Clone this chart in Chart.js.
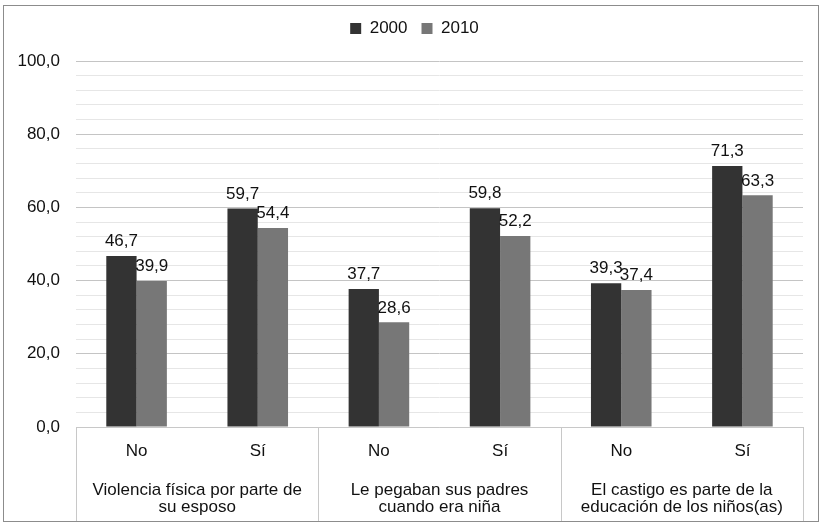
<!DOCTYPE html>
<html>
<head>
<meta charset="utf-8">
<script src="https://cdn.jsdelivr.net/npm/chart.js@4/dist/chart.umd.min.js"></script>
<style>
  html, body { margin: 0; padding: 0; background: #fff; }
  #wrap { position: relative; width: 822px; height: 526px; }
  #frame { position: absolute; left: 3px; top: 5px; width: 814px; height: 515px; border: 1px solid #8c8c8c; pointer-events: none; }
</style>
</head>
<body>
<div id="wrap">
  <canvas id="myBarChart" width="822" height="526"></canvas>
  <div id="frame"></div>
</div>
<script>
// 데이터
const subLabels = ['No', 'Sí', 'No', 'Sí', 'No', 'Sí'];
const groupLabels = [
    ['Violencia física por parte de', 'su esposo'],
    ['Le pegaban sus padres', 'cuando era niña'],
    ['El castigo es parte de la', 'educación de los niños(as)']
];
const values2000 = [46.7, 59.7, 37.7, 59.8, 39.3, 71.3];
const values2010 = [39.9, 54.4, 28.6, 52.2, 37.4, 63.3];

const FONT = "'Liberation Sans', Arial, sans-serif";
const fmt = v => v.toFixed(1).replace('.', ',');

// 범례 아래 여백 + 약간 오른쪽으로
const legendTweak = {
    id: 'legendTweak',
    beforeInit(chart) {
        const lg = chart.legend;
        const origFit = lg.fit;
        lg.fit = function () {
            origFit.call(this);
            this.height += 14;
        };
        const origDraw = lg.draw;
        lg.draw = function () {
            chart.ctx.save();
            chart.ctx.translate(10, 0);
            origDraw.call(this);
            chart.ctx.restore();
        };
    }
};

// 막대 위 값 표시
const valueLabels = {
    id: 'valueLabels',
    afterDatasetsDraw(chart) {
        const c = chart.ctx;
        c.save();
        c.font = '17px ' + FONT;
        c.fillStyle = '#111';
        c.textAlign = 'center';
        c.textBaseline = 'bottom';
        chart.data.datasets.forEach((ds, i) => {
            chart.getDatasetMeta(i).data.forEach((bar, j) => {
                c.fillText(fmt(ds.data[j]), bar.x, bar.y - 6);
            });
        });
        c.restore();
    }
};

// 그룹 구분선
const groupLines = {
    id: 'groupLines',
    afterDraw(chart) {
        const x = chart.scales.x;
        const x2 = chart.scales.x2;
        const c = chart.ctx;
        const xs = [x.left];
        for (let g = 1; g < groupLabels.length; g++) {
            xs.push((x.getPixelForValue(g * 2 - 1) + x.getPixelForValue(g * 2)) / 2);
        }
        xs.push(x.right);
        c.save();
        c.strokeStyle = '#c8c8c8';
        c.lineWidth = 1;
        c.beginPath();
        xs.forEach(px => {
            const p = Math.round(px) + 0.5;
            c.moveTo(p, x.top);
            c.lineTo(p, x2.bottom);
        });
        c.moveTo(x.left, Math.round(x.top) + 0.5);
        c.lineTo(x.right, Math.round(x.top) + 0.5);
        c.stroke();
        c.restore();
    }
};

const ctx = document.getElementById('myBarChart').getContext('2d');
const myBarChart = new Chart(ctx, {
    type: 'bar',
    data: {
        labels: subLabels,
        datasets: [
            { label: '2000', data: values2000, backgroundColor: '#333333' },
            { label: '2010', data: values2010, backgroundColor: '#777777' }
        ]
    },
    options: {
        responsive: false,
        animation: false,
        layout: { padding: { left: 6, right: 19, top: 6, bottom: 4 } },
        categoryPercentage: 0.5,
        barPercentage: 1.0,
        plugins: {
            legend: {
                position: 'top',
                labels: {
                    boxWidth: 11,
                    boxHeight: 11,
                    padding: 14,
                    color: '#111',
                    font: { family: FONT, size: 17 }
                }
            },
            tooltip: { enabled: false }
        },
        scales: {
            x: {
                position: 'bottom',
                grid: { display: false },
                border: { display: false },
                ticks: { color: '#111', padding: 6, font: { family: FONT, size: 17 }, maxRotation: 0 },
                afterFit(s) { s.height = 42; }
            },
            x2: {
                type: 'category',
                position: 'bottom',
                labels: groupLabels,
                offset: true,
                grid: { display: false },
                border: { display: false },
                ticks: { color: '#111', padding: 5, font: { family: FONT, size: 17, lineHeight: 1.0 }, maxRotation: 0 },
                afterFit(s) { s.height = 53; }
            },
            y: {
                min: 0,
                max: 100,
                ticks: {
                    stepSize: 4,
                    color: '#111',
                    padding: 16,
                    font: { family: FONT, size: 17 },
                    autoSkip: false,
                    callback: v => (v % 20 === 0 ? fmt(v) : '')
                },
                grid: {
                    drawTicks: false,
                    color: c => (c.tick && c.tick.value % 20 === 0 ? '#c4c4c4' : '#e6e6e6'),
                    lineWidth: 1
                },
                border: { display: false },
                afterFit(s) { s.width = 70; }
            }
        }
    },
    plugins: [legendTweak, valueLabels, groupLines]
});
</script>
</body>
</html>
